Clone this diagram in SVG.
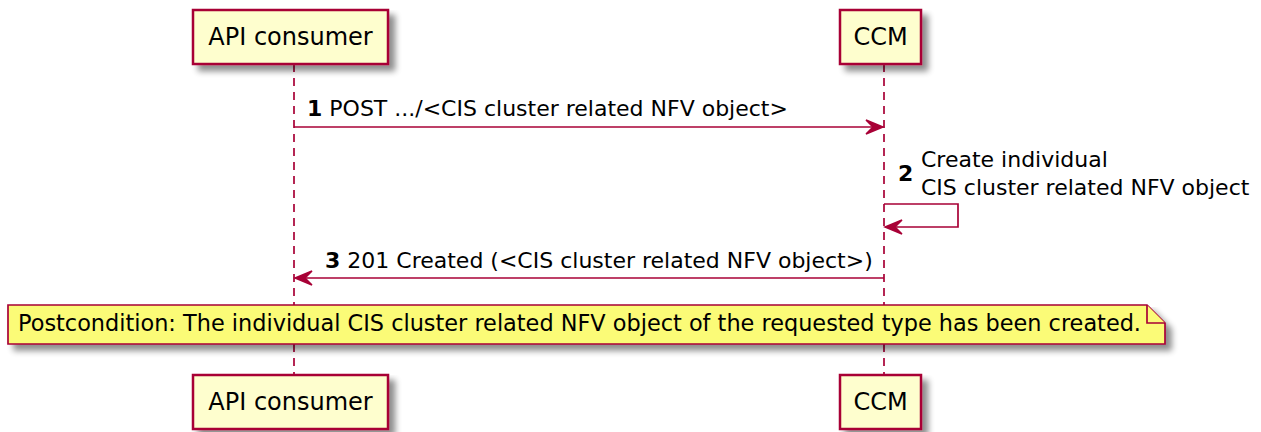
<svg xmlns="http://www.w3.org/2000/svg" width="1261" height="432" viewBox="0 0 1261 432">
<defs>
<filter id="sh" x="-10%" y="-10%" width="130%" height="150%">
<feGaussianBlur in="SourceAlpha" stdDeviation="3"/>
<feOffset dx="6" dy="6" result="b"/>
<feComponentTransfer><feFuncA type="linear" slope="0.45"/></feComponentTransfer>
<feMerge><feMergeNode/><feMergeNode in="SourceGraphic"/></feMerge>
</filter>
</defs>
<style>
.part{fill:#FEFECE;stroke:#A80036;stroke-width:2.5}
.pt{font-family:"DejaVu Sans",sans-serif;font-size:24px;fill:#000}
.life{stroke:#A80036;stroke-width:1.7;stroke-dasharray:8,6;fill:none}
.msg{stroke:#A80036;stroke-width:1.7;fill:none}
.head{fill:#A80036;stroke:#A80036;stroke-width:1.5}
.mt{font-family:"DejaVu Sans",sans-serif;font-size:22px;fill:#000}
.num{font-weight:bold}
.note{fill:#FBFB77;stroke:#A80036;stroke-width:1.7}
.nt{font-family:"DejaVu Sans",sans-serif;font-size:22.4px;fill:#000}
</style>
<rect width="1261" height="432" fill="#fff"/>
<g id="lifelines">
<line class="life" x1="294" y1="64" x2="294" y2="375"/>
<line class="life" x1="884" y1="64" x2="884" y2="375"/>
</g>
<g id="p-api-top">
<rect class="part" x="193" y="10" width="195" height="54" filter="url(#sh)"/>
<text class="pt" x="290.5" y="45" text-anchor="middle">API consumer</text>
</g>
<g id="p-ccm-top">
<rect class="part" x="840" y="10" width="81" height="54" filter="url(#sh)"/>
<text class="pt" x="880.5" y="45" text-anchor="middle">CCM</text>
</g>
<g id="p-api-bottom">
<rect class="part" x="193" y="375" width="195" height="54" filter="url(#sh)"/>
<text class="pt" x="290.5" y="410" text-anchor="middle">API consumer</text>
</g>
<g id="p-ccm-bottom">
<rect class="part" x="840" y="375" width="81" height="54" filter="url(#sh)"/>
<text class="pt" x="880.5" y="410" text-anchor="middle">CCM</text>
</g>
<g id="connectors">
<line class="msg" x1="294" y1="127" x2="876" y2="127"/>
<polygon class="head" points="866,120 883,127 866,134 873,127"/>
<text class="mt" x="307" y="116"><tspan class="num">1</tspan> POST .../&lt;CIS cluster related NFV object&gt;</text>
<polyline class="msg" points="884,204 958,204 958,227 892,227"/>
<polygon class="head" points="902,220 885,227 902,234 895,227"/>
<text class="mt num" x="898" y="181">2</text>
<text class="mt" x="921" y="167">Create individual</text>
<text class="mt" x="921" y="195">CIS cluster related NFV object</text>
<line class="msg" x1="302" y1="278" x2="884" y2="278"/>
<polygon class="head" points="312,271 295,278 312,285 305,278"/>
<text class="mt" x="325" y="268"><tspan class="num">3</tspan> 201 Created (&lt;CIS cluster related NFV object&gt;)</text>
</g>
<g id="note">
<path class="note" d="M8,305 L1147,305 L1165,323 L1165,344 L8,344 Z" filter="url(#sh)"/>
<path class="note" d="M1147,305 L1147,323 L1165,323" fill="none"/>
<text class="nt" x="18" y="331">Postcondition: The individual CIS cluster related NFV object of the requested type has been created.</text>
</g>
</svg>
